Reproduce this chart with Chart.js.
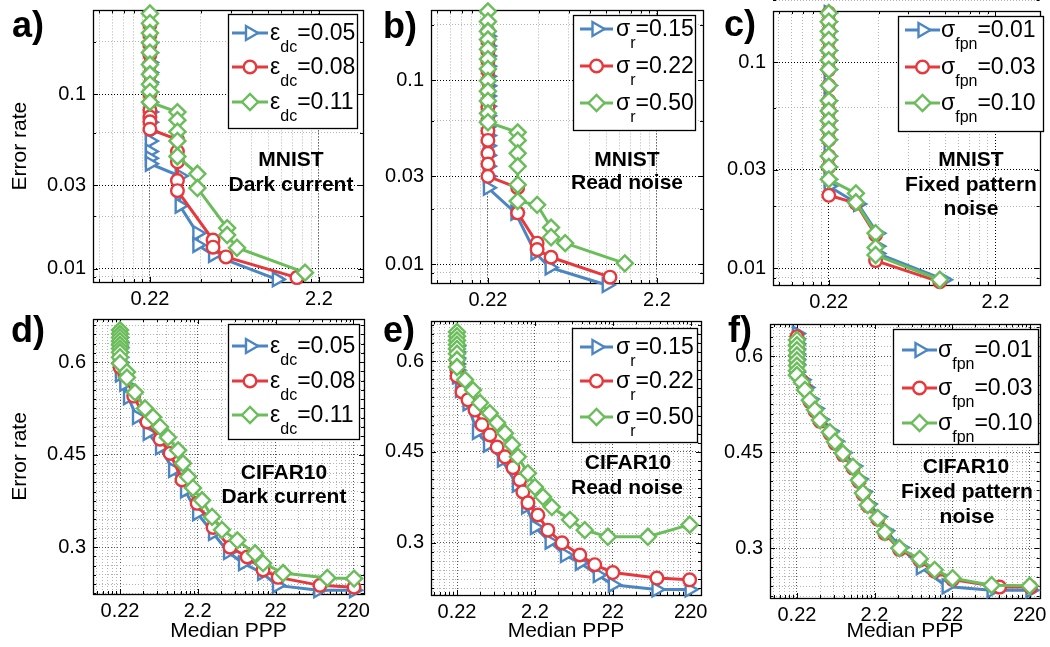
<!DOCTYPE html>
<html>
<head>
<meta charset="utf-8">
<script src="https://cdn.jsdelivr.net/npm/chart.js@4.4.1/dist/chart.umd.min.js"></script>
<style>
  html, body { margin: 0; padding: 0; background: #fff; }
  #wrap { position: relative; width: 1050px; height: 647px; overflow: hidden; background: #fff; }
  #wrap canvas { position: absolute; left: 0; top: 0; }
</style>
</head>
<body>
<div id="wrap"></div>
<script>
const FONT = "'Liberation Sans', Arial, Helvetica, sans-serif";

// axis ticks
const xTickValues = [0.22, 2.2, 22, 220];
const xTickLabels = ['0.22', '2.2', '22', '220'];
const mnistYTicks = [0.01, 0.03, 0.1];
const mnistYTickLabels = ['0.01', '0.03', '0.1'];
const mnistYGrid = [0.009, 0.01, 0.02, 0.03, 0.06, 0.1, 0.2];
const cifarYTicks = [0.3, 0.45, 0.6];
const cifarYTickLabels = ['0.3', '0.45', '0.6'];

// legend values
const dcLabels = ['0.05', '0.08', '0.11'];
const rnLabels = ['0.15', '0.22', '0.50'];
const fpnLabels = ['0.01', '0.03', '0.10'];

// a) MNIST, dark current
const mnistDcX = [
  [0.22, 0.22, 0.22, 0.22, 0.22, 0.22, 0.22, 0.22, 0.22, 0.22, 0.22, 0.22, 0.22, 0.22, 0.33, 0.33, 0.42, 0.42, 0.52, 1.24],
  [0.22, 0.22, 0.22, 0.22, 0.22, 0.22, 0.22, 0.22, 0.22, 0.22, 0.22, 0.22, 0.22, 0.32, 0.32, 0.32, 0.32, 0.32, 0.52, 0.52, 0.62, 1.63],
  [0.22, 0.22, 0.22, 0.22, 0.22, 0.22, 0.22, 0.22, 0.22, 0.22, 0.32, 0.32, 0.32, 0.32, 0.32, 0.42, 0.42, 0.63, 0.63, 0.72, 1.82]
];
const mnistDcY = [
  [0.197, 0.173, 0.152, 0.133, 0.117, 0.103, 0.090, 0.079, 0.069, 0.061, 0.054, 0.047, 0.043, 0.040, 0.034, 0.023, 0.016, 0.0137, 0.012, 0.0087],
  [0.249, 0.218, 0.192, 0.168, 0.148, 0.130, 0.114, 0.100, 0.090, 0.081, 0.074, 0.0695, 0.063, 0.055, 0.047, 0.041, 0.032, 0.028, 0.0146, 0.0133, 0.0117, 0.0089],
  [0.29, 0.255, 0.224, 0.197, 0.173, 0.148, 0.130, 0.114, 0.103, 0.090, 0.079, 0.071, 0.061, 0.054, 0.044, 0.035, 0.029, 0.0171, 0.0156, 0.0132, 0.0095]
];

// b) MNIST, read noise
const mnistRnX = [
  [0.22, 0.22, 0.22, 0.22, 0.22, 0.22, 0.22, 0.22, 0.22, 0.22, 0.22, 0.22, 0.22, 0.22, 0.22, 0.22, 0.32, 0.42, 0.51, 1.11],
  [0.22, 0.22, 0.22, 0.22, 0.22, 0.22, 0.22, 0.22, 0.22, 0.22, 0.22, 0.22, 0.22, 0.22, 0.22, 0.33, 0.33, 0.43, 0.43, 0.52, 1.16],
  [0.22, 0.22, 0.22, 0.22, 0.22, 0.22, 0.22, 0.22, 0.22, 0.22, 0.22, 0.22, 0.33, 0.33, 0.33, 0.33, 0.33, 0.33, 0.43, 0.52, 0.52, 0.63, 1.42]
];
const mnistRnY = [
  [0.173, 0.153, 0.135, 0.119, 0.105, 0.093, 0.082, 0.072, 0.064, 0.056, 0.050, 0.044, 0.039, 0.034, 0.030, 0.026, 0.019, 0.0115, 0.0096, 0.0077],
  [0.184, 0.162, 0.143, 0.127, 0.112, 0.099, 0.087, 0.077, 0.071, 0.060, 0.053, 0.047, 0.040, 0.035, 0.030, 0.026, 0.019, 0.013, 0.012, 0.0109, 0.0085],
  [0.236, 0.208, 0.184, 0.166, 0.147, 0.130, 0.115, 0.099, 0.087, 0.077, 0.066, 0.059, 0.052, 0.047, 0.040, 0.034, 0.027, 0.022, 0.021, 0.0158, 0.014, 0.013, 0.0101]
];

// c) MNIST, fixed pattern noise
const mnistFpnX = [
  [0.22, 0.22, 0.22, 0.22, 0.22, 0.22, 0.22, 0.22, 0.22, 0.22, 0.22, 0.22, 0.22, 0.22, 0.22, 0.22, 0.22, 0.33, 0.43, 0.43, 0.43, 1.08],
  [0.22, 0.22, 0.22, 0.22, 0.22, 0.22, 0.22, 0.22, 0.22, 0.22, 0.22, 0.22, 0.22, 0.22, 0.22, 0.22, 0.32, 0.42, 0.42, 1.02],
  [0.22, 0.22, 0.22, 0.22, 0.22, 0.22, 0.22, 0.22, 0.22, 0.22, 0.22, 0.22, 0.22, 0.22, 0.22, 0.22, 0.32, 0.32, 0.42, 0.42, 0.42, 1.02]
];
const mnistFpnY = [
  [0.173, 0.157, 0.141, 0.128, 0.114, 0.102, 0.092, 0.077, 0.065, 0.058, 0.052, 0.047, 0.042, 0.035, 0.031, 0.027, 0.025, 0.0205, 0.0148, 0.0128, 0.0118, 0.0088],
  [0.173, 0.157, 0.141, 0.128, 0.114, 0.102, 0.092, 0.077, 0.065, 0.058, 0.052, 0.047, 0.042, 0.035, 0.031, 0.0226, 0.0207, 0.0145, 0.0109, 0.0086],
  [0.173, 0.157, 0.141, 0.128, 0.114, 0.102, 0.092, 0.077, 0.065, 0.058, 0.052, 0.047, 0.042, 0.035, 0.031, 0.027, 0.0231, 0.0209, 0.0148, 0.0126, 0.0116, 0.0088]
];

// d) CIFAR10, dark current
const cifarDcX = [
  [0.22, 0.22, 0.22, 0.22, 0.22, 0.22, 0.22, 0.22, 0.25, 0.279, 0.364, 0.50, 0.72, 1.06, 1.51, 2.16, 3.46, 5.4, 8.4, 14.8, 23, 78, 225],
  [0.22, 0.22, 0.22, 0.22, 0.22, 0.22, 0.22, 0.255, 0.33, 0.49, 0.72, 0.97, 1.38, 2.16, 3.46, 5.7, 9.5, 15.2, 23.8, 82, 225],
  [0.22, 0.22, 0.22, 0.22, 0.22, 0.22, 0.22, 0.22, 0.22, 0.27, 0.27, 0.343, 0.462, 0.585, 0.72, 0.91, 1.23, 1.42, 1.65, 1.91, 2.5, 3.36, 4.5, 7.1, 12, 15.2, 27.5, 102, 225]
];
const cifarDcY = [
  [0.64, 0.632, 0.624, 0.616, 0.608, 0.60, 0.59, 0.58, 0.565, 0.543, 0.511, 0.485, 0.462, 0.425, 0.392, 0.355, 0.323, 0.292, 0.274, 0.258, 0.238, 0.230, 0.230],
  [0.645, 0.637, 0.629, 0.621, 0.613, 0.605, 0.592, 0.579, 0.545, 0.503, 0.475, 0.452, 0.409, 0.371, 0.332, 0.30, 0.284, 0.263, 0.251, 0.238, 0.235],
  [0.652, 0.646, 0.640, 0.634, 0.628, 0.622, 0.616, 0.608, 0.598, 0.584, 0.575, 0.551, 0.525, 0.511, 0.495, 0.478, 0.457, 0.436, 0.414, 0.396, 0.376, 0.349, 0.328, 0.311, 0.29, 0.274, 0.258, 0.250, 0.249]
];

// e) CIFAR10, read noise
const cifarRnX = [
  [0.22, 0.22, 0.22, 0.22, 0.22, 0.22, 0.24, 0.30, 0.397, 0.55, 0.83, 1.29, 1.7, 2.2, 3.4, 5.35, 8.3, 14.1, 22, 80, 213],
  [0.22, 0.22, 0.22, 0.22, 0.22, 0.255, 0.304, 0.374, 0.46, 0.58, 0.72, 0.91, 1.15, 1.41, 1.54, 1.79, 2.4, 3.23, 4.9, 8.3, 12.9, 22, 81, 213],
  [0.22, 0.22, 0.22, 0.22, 0.22, 0.22, 0.22, 0.22, 0.279, 0.353, 0.434, 0.58, 0.72, 0.91, 1.12, 1.33, 1.79, 2.2, 2.79, 3.63, 6.2, 9.6, 19, 62, 213]
];
const cifarRnY = [
  [0.625, 0.615, 0.605, 0.595, 0.585, 0.575, 0.552, 0.53, 0.483, 0.462, 0.437, 0.396, 0.36, 0.326, 0.302, 0.280, 0.267, 0.247, 0.231, 0.223, 0.223],
  [0.615, 0.605, 0.595, 0.585, 0.575, 0.549, 0.536, 0.519, 0.495, 0.478, 0.458, 0.442, 0.424, 0.404, 0.384, 0.366, 0.346, 0.321, 0.300, 0.280, 0.264, 0.251, 0.242, 0.239],
  [0.648, 0.641, 0.634, 0.627, 0.620, 0.612, 0.602, 0.590, 0.569, 0.552, 0.531, 0.514, 0.498, 0.481, 0.462, 0.442, 0.415, 0.392, 0.376, 0.359, 0.338, 0.321, 0.310, 0.310, 0.330]
];

// f) CIFAR10, fixed pattern noise
const cifarFpnX = [
  [0.22, 0.22, 0.22, 0.22, 0.22, 0.22, 0.22, 0.22, 0.26, 0.29, 0.33, 0.385, 0.45, 0.6, 0.7, 0.88, 1.2, 1.42, 1.6, 1.85, 2.5, 3.1, 4.8, 8.7, 18.7, 71, 225],
  [0.22, 0.22, 0.22, 0.22, 0.22, 0.22, 0.22, 0.22, 0.255, 0.279, 0.323, 0.375, 0.435, 0.585, 0.68, 0.86, 1.16, 1.38, 1.56, 1.80, 2.42, 2.99, 4.6, 8.4, 13.1, 22.3, 90, 225],
  [0.22, 0.22, 0.22, 0.22, 0.22, 0.22, 0.22, 0.22, 0.255, 0.279, 0.323, 0.375, 0.435, 0.585, 0.68, 0.86, 1.16, 1.38, 1.56, 1.80, 2.42, 2.99, 4.6, 8.4, 13.1, 22.3, 71, 220]
];
const cifarFpnY = [
  [0.635, 0.627, 0.619, 0.611, 0.603, 0.595, 0.587, 0.575, 0.563, 0.551, 0.533, 0.518, 0.501, 0.483, 0.467, 0.449, 0.428, 0.408, 0.388, 0.369, 0.349, 0.327, 0.301, 0.270, 0.240, 0.234, 0.234],
  [0.63, 0.622, 0.614, 0.606, 0.598, 0.590, 0.582, 0.572, 0.561, 0.549, 0.529, 0.514, 0.498, 0.479, 0.464, 0.446, 0.425, 0.404, 0.384, 0.366, 0.345, 0.323, 0.298, 0.281, 0.264, 0.251, 0.239, 0.239],
  [0.625, 0.617, 0.609, 0.601, 0.593, 0.585, 0.577, 0.570, 0.559, 0.547, 0.531, 0.516, 0.500, 0.481, 0.466, 0.448, 0.427, 0.406, 0.386, 0.367, 0.347, 0.325, 0.300, 0.283, 0.266, 0.253, 0.242, 0.241]
];

const colors = ['#4b86c3', '#e6393d', '#6abd5a'];
const marks = [
  { style: 'triangle', rot: 90, r: 8 },
  { style: 'circle', rot: 0, r: 6.3 },
  { style: 'rectRot', rot: 0, r: 8 }
];

// panel layout: plot area [left, top, right, bottom] in page pixels
const panels = [
  { x: mnistDcX, y: mnistDcY, sym: 'ε', sub: 'dc', labels: dcLabels, yLog: true,
    area: [93, 7, 363, 282], xRange: [0.1013, 4.01], yRange: [0.0084, 0.302], yTitle: true, xTitle: false,
    legend: { box: [228, 14, 129, 114], rows: [33, 67, 102], line: [232, 268], text: 270 },
    notes: [['MNIST', 291, 160], ['Dark current', 291, 185]], letter: ['a)', 12, 37] },
  { x: mnistRnX, y: mnistRnY, sym: 'σ', sub: 'r', labels: rnLabels, yLog: true,
    area: [431, 9, 703, 283], xRange: [0.1013, 4.12], yRange: [0.0079, 0.239], yTitle: false, xTitle: false,
    legend: { box: [573, 15, 122, 115], rows: [29, 66, 103], line: [580, 613], text: 616 },
    notes: [['MNIST', 627, 160], ['Read noise', 627, 183]], letter: ['b)', 383, 38] },
  { x: mnistFpnX, y: mnistFpnY, sym: 'σ', sub: 'fpn', labels: fpnLabels, yLog: true,
    area: [773, 11, 1045, 285], xRange: [0.1018, 4.05], yRange: [0.0083, 0.177], yTitle: false, xTitle: false,
    legend: { box: [898, 16, 145, 115], rows: [30, 67, 103], line: [905, 940], text: 941 },
    notes: [['MNIST', 971, 160], ['Fixed pattern', 971, 185], ['noise', 971, 209]], letter: ['c)', 724, 36] },
  { x: cifarDcX, y: cifarDcY, sym: 'ε', sub: 'dc', labels: dcLabels, yLog: false,
    area: [93, 319, 364, 594], xRange: [0.0989, 302], yRange: [0.224, 0.670], yTitle: true, xTitle: true,
    legend: { box: [228, 324, 131, 115], rows: [346, 381, 415], line: [232, 268], text: 270 },
    notes: [['CIFAR10', 284, 473], ['Dark current', 284, 497]], letter: ['d)', 11, 342] },
  { x: cifarRnX, y: cifarRnY, sym: 'σ', sub: 'r', labels: rnLabels, yLog: false,
    area: [431, 321, 701, 595], xRange: [0.102, 298], yRange: [0.214, 0.666], yTitle: false, xTitle: true,
    legend: { box: [572, 328, 125, 114], rows: [347, 381, 417], line: [580, 613], text: 616 },
    notes: [['CIFAR10', 628, 463], ['Read noise', 627, 488]], letter: ['e)', 383, 342] },
  { x: cifarFpnX, y: cifarFpnY, sym: 'σ', sub: 'fpn', labels: fpnLabels, yLog: false,
    area: [770, 324, 1040, 598], xRange: [0.099, 295], yRange: [0.222, 0.650], yTitle: false, xTitle: true,
    legend: { box: [893, 329, 145, 115], rows: [350, 388, 423], line: [902, 937], text: 938 },
    notes: [['CIFAR10', 966, 467], ['Fixed pattern', 967, 492], ['noise', 967, 517]], letter: ['f)', 728, 342] }
];

const W = 1050, H = 647;
const wrap = document.getElementById('wrap');

function nearIdx(list, v) {
  return list.findIndex(t => Math.abs(t - v) / t < 1e-6);
}

// log grid at multiples of 0.22 (1..9 per decade)
function gridLogX(min, max) {
  const vals = [];
  for (let e = -1; e <= 3; e++) {
    for (let k = 1; k <= 9; k++) {
      const v = +(0.22 * k * Math.pow(10, e)).toPrecision(6);
      if (v >= min && v <= max) vals.push(v);
    }
  }
  return vals;
}

function gridLinY(min, max) {
  const vals = [];
  for (let i = Math.ceil(min / 0.015); i * 0.015 <= max + 1e-9; i++) vals.push(+(i * 0.015).toFixed(3));
  return vals;
}

function makeDecor(p, xGrid, yGrid, yMajor) {
  return {
    id: 'decor',
    beforeDatasetsDraw(chart) {
      const { ctx, chartArea: a, scales } = chart;
      ctx.save();
      ctx.strokeStyle = '#000';
      ctx.lineWidth = 1;
      // inward tick marks on all four sides
      ctx.beginPath();
      xGrid.forEach(v => {
        const px = Math.round(scales.x.getPixelForValue(v)) + 0.5;
        const len = nearIdx(xTickValues, v) >= 0 ? 5 : 3;
        ctx.moveTo(px, a.bottom); ctx.lineTo(px, a.bottom - len);
        ctx.moveTo(px, a.top); ctx.lineTo(px, a.top + len);
      });
      yGrid.forEach(v => {
        const py = Math.round(scales.y.getPixelForValue(v)) + 0.5;
        const len = nearIdx(yMajor, v) >= 0 ? 5 : 3;
        ctx.moveTo(a.left, py); ctx.lineTo(a.left + len, py);
        ctx.moveTo(a.right, py); ctx.lineTo(a.right - len, py);
      });
      ctx.stroke();
      ctx.lineWidth = 1.3;
      ctx.strokeRect(Math.round(a.left) + 0.5, Math.round(a.top) + 0.5,
        Math.round(a.right - a.left), Math.round(a.bottom - a.top));
      ctx.restore();
    },
    afterDatasetsDraw(chart) {
      const ctx = chart.ctx;
      const lg = p.legend;
      const [bx, by, bw, bh] = lg.box;
      ctx.save();
      ctx.fillStyle = '#fff';
      ctx.fillRect(bx, by, bw, bh);
      ctx.strokeStyle = '#000';
      ctx.lineWidth = 1.3;
      ctx.strokeRect(bx + 0.5, by + 0.5, bw, bh);
      lg.rows.forEach((ry, s) => {
        ctx.strokeStyle = colors[s];
        ctx.lineWidth = 3;
        ctx.beginPath();
        ctx.moveTo(lg.line[0], ry);
        ctx.lineTo(lg.line[1], ry);
        ctx.stroke();
        ctx.fillStyle = '#fff';
        ctx.lineWidth = 2.4;
        Chart.helpers.drawPoint(ctx, {
          pointStyle: marks[s].style, rotation: marks[s].rot, radius: marks[s].r, borderWidth: 2.4
        }, (lg.line[0] + lg.line[1]) / 2, ry);
        ctx.fillStyle = '#000';
        ctx.textAlign = 'left';
        ctx.textBaseline = 'alphabetic';
        let tx = lg.text;
        ctx.font = '23px ' + FONT;
        ctx.fillText(p.sym, tx, ry + 7);
        tx += ctx.measureText(p.sym).width;
        ctx.font = '16px ' + FONT;
        ctx.fillText(p.sub, tx, ry + 19);
        tx += ctx.measureText(p.sub).width;
        ctx.font = '23px ' + FONT;
        ctx.fillText('=' + p.labels[s], tx, ry + 7);
      });
      ctx.restore();
    },
    afterDraw(chart) {
      const ctx = chart.ctx;
      ctx.save();
      ctx.fillStyle = '#000';
      ctx.textAlign = 'center';
      ctx.textBaseline = 'middle';
      ctx.font = 'bold 21px ' + FONT;
      p.notes.forEach(([t, x, y]) => ctx.fillText(t, x, y));
      ctx.textAlign = 'left';
      ctx.textBaseline = 'alphabetic';
      ctx.font = 'bold 36px ' + FONT;
      ctx.fillText(p.letter[0], p.letter[1], p.letter[2]);
      ctx.restore();
    }
  };
}

panels.forEach(p => {
  const cv = document.createElement('canvas');
  cv.width = W; cv.height = H;
  cv.style.width = W + 'px'; cv.style.height = H + 'px';
  wrap.appendChild(cv);

  const [L, T, R, B] = p.area;
  const yw = p.yTitle ? L : 60;
  const xh = p.xTitle ? 644 - B : 30;
  const xGrid = gridLogX(p.xRange[0], p.xRange[1]);
  const yGrid = p.yLog ? mnistYGrid : gridLinY(p.yRange[0], p.yRange[1]);
  const yMajor = p.yLog ? mnistYTicks : cifarYTicks;
  const yLabels = p.yLog ? mnistYTickLabels : cifarYTickLabels;
  const majorColor = p.yLog ? '#000' : '#555';

  const datasets = p.x.map((xs, s) => ({
    data: xs.map((x, j) => ({ x: x, y: p.y[s][j] })),
    borderColor: colors[s],
    backgroundColor: '#fff',
    borderWidth: 3,
    pointStyle: marks[s].style,
    pointRotation: marks[s].rot,
    pointRadius: marks[s].r,
    pointHoverRadius: marks[s].r,
    pointBorderColor: colors[s],
    pointBackgroundColor: '#fff',
    pointBorderWidth: 2.4,
    tension: 0,
    clip: false,
    order: 3 - s
  }));

  new Chart(cv, {
    type: 'line',
    data: { datasets },
    options: {
      responsive: false,
      animation: false,
      events: [],
      layout: { padding: { left: L - yw, top: T, right: W - R, bottom: H - B - xh } },
      plugins: { legend: { display: false }, tooltip: { enabled: false } },
      scales: {
        x: {
          type: 'logarithmic',
          min: p.xRange[0], max: p.xRange[1],
          bounds: 'data',
          afterBuildTicks: s => { s.ticks = xGrid.map(v => ({ value: v })); },
          afterFit: s => { s.height = xh; s.paddingLeft = 0; s.paddingRight = 0; },
          ticks: {
            autoSkip: false, maxRotation: 0, minRotation: 0, padding: 5, color: '#000',
            font: { family: FONT, size: 20 },
            callback: v => { const k = nearIdx(xTickValues, v); return k >= 0 ? xTickLabels[k] : ''; }
          },
          grid: {
            drawTicks: false, lineWidth: 1,
            color: c => nearIdx(xTickValues, c.tick.value) >= 0 ? majorColor : '#b3b3b3'
          },
          border: { display: false, dash: [1, 2] },
          title: {
            display: p.xTitle, text: 'Median PPP', color: '#000',
            font: { family: FONT, size: 21 }, padding: { top: 0, bottom: 0 }
          }
        },
        y: {
          type: p.yLog ? 'logarithmic' : 'linear',
          min: p.yRange[0], max: p.yRange[1],
          bounds: 'data',
          afterBuildTicks: s => { s.ticks = yGrid.map(v => ({ value: v })); },
          afterFit: s => { s.width = yw; s.paddingTop = 0; s.paddingBottom = 0; },
          ticks: {
            autoSkip: false, padding: 7, color: '#000',
            font: { family: FONT, size: 20 },
            callback: v => { const k = nearIdx(yMajor, v); return k >= 0 ? yLabels[k] : ''; }
          },
          grid: {
            drawTicks: false, lineWidth: 1,
            color: c => nearIdx(yMajor, c.tick.value) >= 0 ? majorColor : '#b3b3b3'
          },
          border: { display: false, dash: [1, 2] },
          title: {
            display: p.yTitle, text: 'Error rate', color: '#000',
            font: { family: FONT, size: 21 }, padding: { top: 8, bottom: 0 }
          }
        }
      }
    },
    plugins: [makeDecor(p, xGrid, yGrid, yMajor)]
  });
});
</script>
</body>
</html>
